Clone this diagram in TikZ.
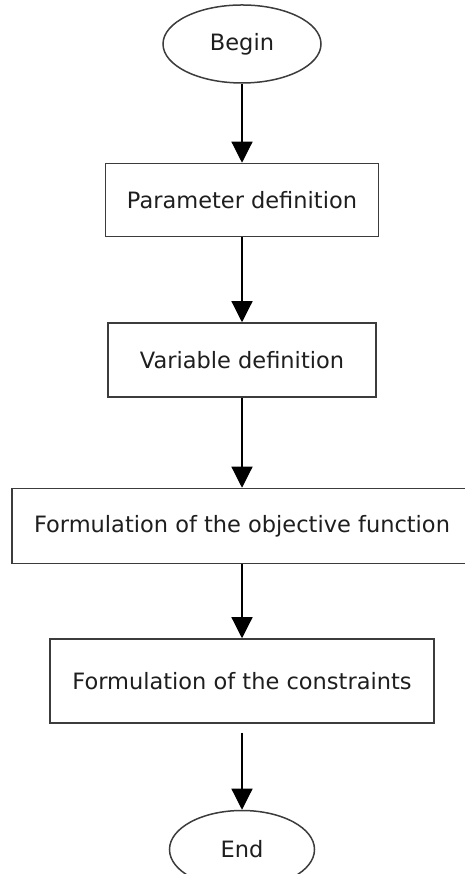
\documentclass[tikz,border=0pt]{standalone}
\usepackage{fontspec}
\setmainfont{DejaVu Sans}
\usepackage{xcolor}
\usepackage{tikz}
\usetikzlibrary{shapes.geometric, arrows.meta, positioning}
\definecolor{fcline}{RGB}{60,60,60}
\definecolor{fctext}{RGB}{30,30,30}

\begin{document}
\begin{tikzpicture}[
  x=1pt, y=1pt,
  every node/.style={font=\fontsize{22.5}{27}\selectfont, text=fctext},
  terminal/.style={ellipse, draw=fcline, line width=1.5pt,
                   minimum width=158pt, minimum height=78pt, inner sep=0pt},
  stage/.style={rectangle, draw=fcline, line width=1.5pt,
                minimum height=74pt, inner sep=0pt, align=center},
  arrow/.style={-{Triangle[length=21pt, width=21pt]}, color=black, line width=1.2pt},
]
\useasboundingbox (0,0) rectangle (464,874);

% ── Flow column ──
\node[terminal] (start) at (242,830) {Begin};
\node[stage, minimum width=273pt, minimum height=73pt, below=79pt of start] (param) {Parameter definition};
\node[stage, minimum width=268pt, below=85pt of param] (var)  {Variable definition};
\node[stage, minimum width=460pt, minimum height=75pt, below=90pt of var] (obj) {Formulation of the objective function};
\node[stage, minimum width=384pt, minimum height=84pt, below=74pt of obj] (cons) {Formulation of the constraints};
\node[terminal, minimum width=145pt, below=86pt of cons] (stop) {End};

\foreach \a/\b in {start/param, param/var, var/obj, obj/cons}
  \draw[arrow] (\a) -- (\b);
\draw[arrow, shorten <=9pt] (cons) -- (stop);

\end{tikzpicture}
\end{document}
